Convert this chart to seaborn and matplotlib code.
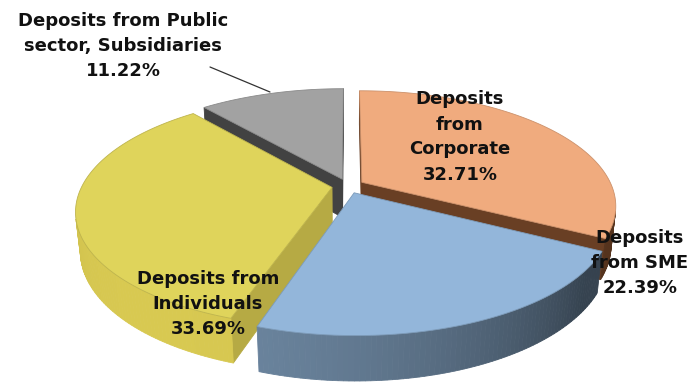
import numpy as np
import matplotlib
matplotlib.use("Agg")
import matplotlib.pyplot as plt
from matplotlib.patches import Polygon
import seaborn as sns

# ---- data ----
categories = ["Deposits from Corporate", "Deposits from SME",
              "Deposits from Individuals", "Deposits from Public sector, Subsidiaries"]
shares = [32.71, 22.39, 33.69, 11.22]
label_texts = ["Deposits\nfrom\nCorporate\n32.71%",
               "Deposits\nfrom SME\n22.39%",
               "Deposits from\nIndividuals\n33.69%",
               "Deposits from Public\nsector, Subsidiaries\n11.22%"]

# ---- styles ----
top_colors = ["#F0AB7E", "#93B6DA", "#DFD45B", "#A2A2A2"]
side_colors = ["#8E5530", "#6C86A0", "#D8C951", "#555555"]
shade_min = [0.6, 0.5, 0.86, 0.7]
label_pos = [(460, 137), (640, 263), (208, 304), (123, 46)]

sns.set_theme(style="white")
plt.rcParams['font.family'] = ['DejaVu Sans']

W, H = 694, 386
fig = plt.figure(figsize=(W / 100, H / 100), dpi=100)
ax = fig.add_axes([0, 0, 1, 1])
ax.set_xlim(0, W)
ax.set_ylim(H, 0)
ax.axis('off')

# ---- 3D pie projection ----
S = 250.0
CX, CY = 348.0, 186.0
alpha = np.radians(26.4)
ca, sa = np.cos(alpha), np.sin(alpha)
D = 4.48
h = 0.175
explode = 0.065
cam = np.array([0.0, -D * ca, D * sa])


def proj(X, Y, Z):
    d = Y * ca - Z * sa
    f = D / (D + d)
    sx = X * f
    sy = (Y * sa + Z * ca) * f
    return CX + S * sx, CY - S * sy


def depth(pts):
    pts = np.asarray(pts)
    return np.mean(pts[:, 1] * ca - pts[:, 2] * sa)


def shade(rgb, k):
    r = np.array(matplotlib.colors.to_rgb(rgb)) * k
    return tuple(np.clip(r, 0, 1))


Ldir = np.array([-0.6, -0.8])
fractions = np.array(shares) / np.sum(shares)
bounds = np.concatenate([[0], np.cumsum(fractions)]) * 2 * np.pi

side_faces = []   # (depth, poly2d, color)
top_faces = []

for i in range(len(shares)):
    t1, t2 = bounds[i], bounds[i + 1]
    tm = 0.5 * (t1 + t2)
    ox, oy = explode * np.sin(tm), explode * np.cos(tm)
    n = max(int(np.degrees(t2 - t1)), 2)
    th = np.linspace(t1, t2, n + 1)
    # top face
    pts = [proj(ox, oy, 0.0)] + [proj(ox + np.sin(t), oy + np.cos(t), 0.0) for t in th]
    top_faces.append((pts, top_colors[i]))
    # outer side segments
    for a, b in zip(th[:-1], th[1:]):
        m = 0.5 * (a + b)
        nrm = np.array([np.sin(m), np.cos(m), 0.0])
        P3 = np.array([ox + np.sin(m), oy + np.cos(m), -h / 2])
        if np.dot(nrm, cam - P3) <= 0:
            continue
        q3 = [(ox + np.sin(a), oy + np.cos(a), 0.0), (ox + np.sin(b), oy + np.cos(b), 0.0),
              (ox + np.sin(b), oy + np.cos(b), -h), (ox + np.sin(a), oy + np.cos(a), -h)]
        lit = max(0.0, np.dot(nrm[:2], Ldir))
        k = shade_min[i] + (1 - shade_min[i]) * lit
        side_faces.append((depth(q3), [proj(*p) for p in q3], shade(side_colors[i], k)))
    # radial cut faces
    for t, sgn in ((t1, -1), (t2, 1)):
        nrm = sgn * np.array([np.cos(t), -np.sin(t), 0.0])
        q3 = [(ox, oy, 0.0), (ox + np.sin(t), oy + np.cos(t), 0.0),
              (ox + np.sin(t), oy + np.cos(t), -h), (ox, oy, -h)]
        c3 = np.mean(np.array(q3), axis=0)
        if np.dot(nrm, cam - c3) <= 0:
            continue
        side_faces.append((depth(q3), [proj(*p) for p in q3],
                           shade(side_colors[i], 0.5 + 0.4 * shade_min[i])))

z = 1
for dval, poly, col in sorted(side_faces, key=lambda s: -s[0]):
    ax.add_patch(Polygon(poly, closed=True, facecolor=col, edgecolor=col, lw=0.6, zorder=z))
    z += 1
for poly, col in top_faces:
    ax.add_patch(Polygon(poly, closed=True, facecolor=col, edgecolor=shade(col, 0.85),
                         lw=0.6, zorder=z))
    z += 1

# ---- labels ----
for txt, (x, y) in zip(label_texts, label_pos):
    ax.text(x, y, txt, ha='center', va='center', fontsize=13, fontweight='bold',
            color='#111111', linespacing=1.5, zorder=z + 5)

# leader line for the small slice
ax.plot([210, 270], [67, 92], color='#333333', lw=0.9, zorder=z + 4)

fig.savefig("out.png", dpi=100, facecolor='white')
